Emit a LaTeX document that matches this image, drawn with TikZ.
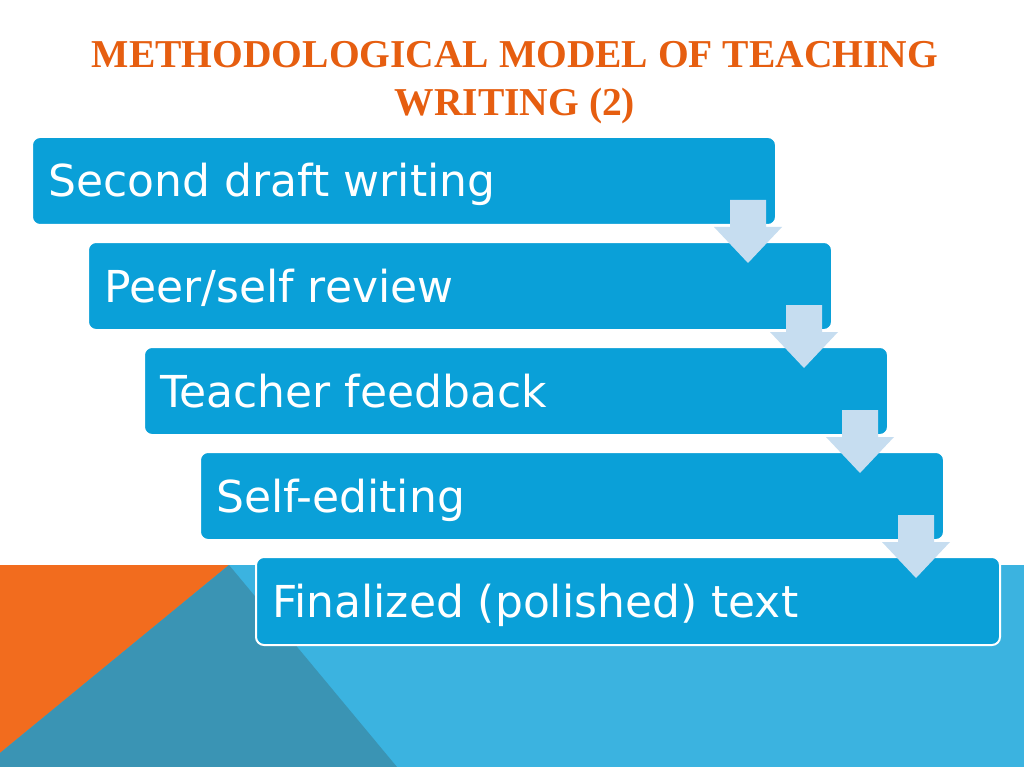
\documentclass[tikz,border=0pt]{standalone}
\usepackage{fontspec}
\setmainfont{Liberation Serif}
\newfontfamily\boxfont[Ligatures={NoCommon,NoContextual}]{DejaVu Sans}
\usetikzlibrary{calc}
\definecolor{titleorange}{RGB}{230,94,16}
\definecolor{boxblue}{RGB}{10,160,216}
\definecolor{bandblue}{RGB}{59,179,224}
\definecolor{bandteal}{RGB}{58,148,180}
\definecolor{bandorange}{RGB}{242,108,30}
\definecolor{arrowpale}{RGB}{198,221,240}
\tikzset{
  stepbox/.style={fill=boxblue, draw=white, line width=2pt, rounded corners=8pt},
  steptext/.style={anchor=base west, text=white, font=\boxfont\fontsize{44}{48}\selectfont, inner sep=0pt},
  downarrow/.style={fill=arrowpale, draw=none},
  titletext/.style={text=titleorange, font=\bfseries\fontsize{39.5}{48}\selectfont, align=center, inner sep=0pt}
}
\begin{document}
\begin{tikzpicture}[x=1pt,y=-1pt]
\useasboundingbox (0,0) rectangle (1024,767);
\fill[white] (0,0) rectangle (1024,767);
% background band
\fill[bandblue] (0,565) rectangle (1024,767);
\fill[bandorange] (0,565) -- (229,565) -- (0,753) -- cycle;
\fill[bandteal] (229,565) -- (397,767) -- (0,767) -- (0,753) -- cycle;
% title
\node[titletext, anchor=base] (title1) at (515,68) {METHODOLOGICAL MODEL OF TEACHING};
\node[titletext, anchor=base] (title2) at (515,116) {WRITING (2)};
% boxes
\foreach \i/\t in {0/{Second draf\kern0pt t writing},1/{Peer{/}self review},2/{Teacher feedback},3/{Self-editing},4/{Finalized (polished) text}}{
  \draw[stepbox] ({32+56*\i},{137+105*\i}) rectangle ({776+56*\i},{225+105*\i});
  \node[steptext] (s\i) at ({48+56*\i},{197+105*\i}) {\t};
}
% arrows
\foreach \i in {0,1,2,3}{
  \fill[downarrow] ({730+56*\i},{200+105*\i}) -- ({766+56*\i},{200+105*\i}) -- ({766+56*\i},{227+105*\i}) -- ({782+56*\i},{227+105*\i}) -- ({748+56*\i},{263+105*\i}) -- ({714+56*\i},{227+105*\i}) -- ({730+56*\i},{227+105*\i}) -- cycle;
}
\end{tikzpicture}
\end{document}
